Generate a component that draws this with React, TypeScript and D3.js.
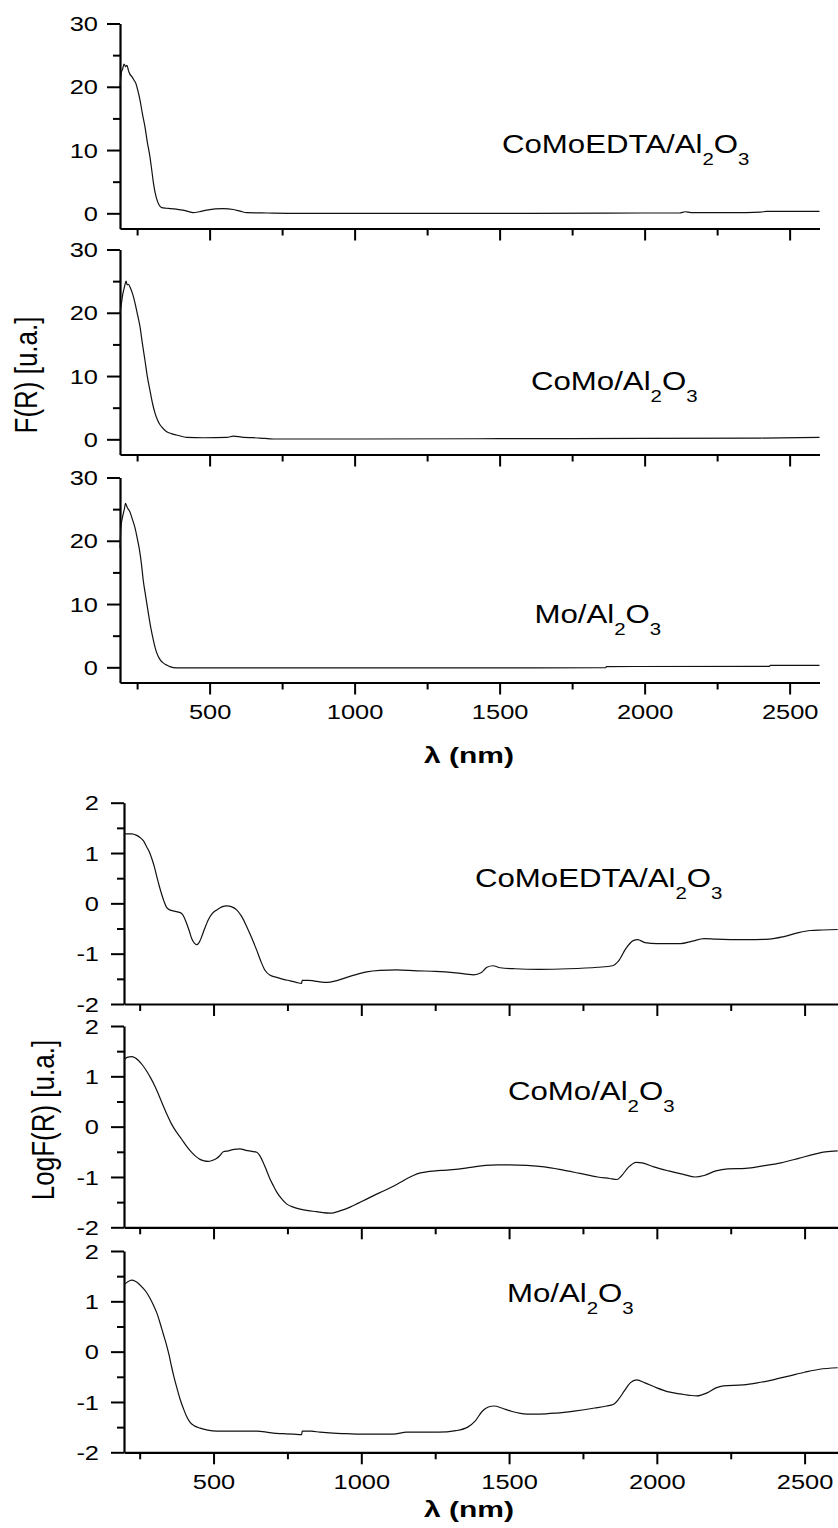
import React, { useEffect, useRef } from 'react';
import * as d3 from 'd3';

// ---------- data ----------
const wavelengthTicks = [500, 1000, 1500, 2000, 2500];
const wavelengthMinorTicks = [250, 750, 1250, 1750, 2250];
const frTicks = [0, 10, 20, 30];
const frMinorTicks = [5, 15, 25];
const logTicks = [-2, -1, 0, 1, 2];
const logMinorTicks = [-1.5, -0.5, 0.5, 1.5];
const sampleNames = ['CoMoEDTA', 'CoMo', 'Mo'];

// F(R) spectra [wavelength nm, F(R)]
const frCoMoEdta: [number, number][] = [
  [191, 20.0], [196, 22.3], [200, 22.8], [205, 23.6], [210, 23.2], [215, 23.4], [220, 22.6],
  [225, 22.0], [232, 21.6], [240, 21.0], [246, 20.5], [252, 19.5], [260, 17.9], [268, 15.8],
  [277, 13.7], [285, 11.3], [294, 9.0], [300, 7.0], [306, 4.9], [312, 3.3], [318, 2.2],
  [325, 1.4], [335, 0.9], [350, 0.8], [363, 0.75], [385, 0.65], [408, 0.5], [425, 0.3],
  [443, 0.1], [465, 0.25], [490, 0.5], [520, 0.7], [547, 0.75], [582, 0.6], [605, 0.35],
  [628, 0.1], [700, 0.05], [811, 0], [1200, 0], [1600, 0.0], [2000, 0.05], [2120, 0.05],
  [2140, 0.25], [2160, 0.1], [2300, 0.1], [2400, 0.2], [2420, 0.3], [2603, 0.3],
];
const frCoMo: [number, number][] = [
  [191, 19.9], [196, 21.5], [200, 22.8], [205, 23.8], [209, 24.6], [212, 25.0], [216, 24.4],
  [220, 24.5], [228, 23.8], [235, 22.9], [243, 21.5], [250, 20.0], [260, 17.8], [268, 15.2],
  [277, 12.5], [285, 10.0], [294, 7.8], [303, 5.7], [312, 4.1], [320, 3.1], [329, 2.3],
  [340, 1.7], [352, 1.2], [368, 0.9], [386, 0.68], [405, 0.45], [421, 0.3], [480, 0.25],
  [560, 0.3], [582, 0.5], [610, 0.35], [674, 0.2], [720, 0.05], [1000, 0.05], [1500, 0.1],
  [2000, 0.15], [2400, 0.2], [2603, 0.3],
];
const frMo: [number, number][] = [
  [191, 18.8], [194, 22.0], [200, 23.8], [206, 25.0], [210, 25.9], [213, 25.6], [218, 25.1],
  [225, 24.6], [233, 23.5], [243, 22.0], [250, 20.5], [258, 18.6], [265, 16.3], [271, 13.8],
  [280, 11.1], [289, 8.5], [297, 6.3], [306, 4.3], [314, 2.8], [323, 1.7], [331, 1.1],
  [340, 0.7], [352, 0.35], [363, 0.1], [386, -0.1], [1000, -0.1], [1500, -0.08], [1866, -0.05],
  [1868, 0.12], [2430, 0.15], [2433, 0.3], [2603, 0.3],
];

// Log F(R) spectra [wavelength nm, log F(R)]
const logCoMoEdta: [number, number][] = [
  [197, 1.35], [200, 1.38], [223, 1.38], [240, 1.35], [251, 1.31], [263, 1.24], [274, 1.12],
  [283, 1.02], [291, 0.89], [300, 0.72], [308, 0.53], [317, 0.33], [325, 0.17], [333, 0.03],
  [341, -0.08], [352, -0.13], [364, -0.15], [378, -0.17], [392, -0.2], [400, -0.27], [409, -0.4],
  [418, -0.55], [426, -0.7], [435, -0.79], [443, -0.82], [452, -0.77], [460, -0.66], [470, -0.5],
  [482, -0.33], [496, -0.2], [511, -0.13], [528, -0.07], [545, -0.05], [562, -0.07], [578, -0.13],
  [595, -0.26], [612, -0.46], [630, -0.7], [646, -0.93], [660, -1.15], [674, -1.33], [692, -1.43],
  [714, -1.47], [737, -1.51], [759, -1.54], [780, -1.57], [798, -1.59], [800, -1.53], [820, -1.53],
  [838, -1.54], [860, -1.56], [888, -1.57], [920, -1.53], [951, -1.47], [985, -1.41], [1018, -1.36],
  [1063, -1.33], [1120, -1.32], [1187, -1.34], [1250, -1.35], [1320, -1.38], [1380, -1.42],
  [1405, -1.38], [1425, -1.27], [1445, -1.24], [1470, -1.28], [1520, -1.3], [1600, -1.31],
  [1700, -1.3], [1800, -1.27], [1850, -1.24], [1870, -1.15], [1895, -0.9], [1920, -0.74],
  [1935, -0.72], [1960, -0.78], [2000, -0.8], [2080, -0.8], [2120, -0.75], [2160, -0.7],
  [2200, -0.71], [2300, -0.72], [2380, -0.71], [2430, -0.66], [2480, -0.58], [2520, -0.54],
  [2560, -0.53], [2612, -0.52],
];
const logCoMo: [number, number][] = [
  [197, 1.33], [210, 1.38], [223, 1.39], [245, 1.32], [260, 1.22], [274, 1.1], [288, 0.96],
  [302, 0.8], [316, 0.61], [330, 0.41], [344, 0.22], [358, 0.05], [375, -0.11], [392, -0.25],
  [409, -0.39], [426, -0.51], [440, -0.59], [454, -0.65], [468, -0.68], [482, -0.69], [496, -0.67],
  [511, -0.63], [522, -0.57], [533, -0.5], [550, -0.48], [570, -0.45], [589, -0.44], [610, -0.47],
  [630, -0.49], [646, -0.51], [657, -0.58], [668, -0.71], [680, -0.88], [691, -1.04], [703, -1.18],
  [714, -1.3], [730, -1.43], [748, -1.54], [770, -1.6], [793, -1.64], [820, -1.67], [849, -1.69],
  [870, -1.71], [894, -1.72], [930, -1.67], [962, -1.6], [990, -1.52], [1018, -1.44], [1045, -1.36],
  [1075, -1.28], [1103, -1.2], [1131, -1.11], [1155, -1.03], [1176, -0.97], [1200, -0.92],
  [1230, -0.89], [1270, -0.87], [1320, -0.85], [1370, -0.81], [1420, -0.77], [1460, -0.76],
  [1500, -0.76], [1560, -0.77], [1620, -0.8], [1680, -0.86], [1740, -0.93], [1800, -1.0],
  [1840, -1.03], [1865, -1.05], [1880, -0.98], [1905, -0.8], [1930, -0.71], [1950, -0.72],
  [1990, -0.8], [2040, -0.88], [2090, -0.95], [2130, -1.0], [2160, -0.97], [2200, -0.88],
  [2240, -0.84], [2300, -0.83], [2360, -0.78], [2420, -0.72], [2480, -0.63], [2530, -0.55],
  [2570, -0.5], [2612, -0.48],
];
const logMo: [number, number][] = [
  [197, 1.33], [210, 1.39], [223, 1.42], [235, 1.4], [245, 1.36], [260, 1.27], [274, 1.17],
  [285, 1.06], [296, 0.93], [308, 0.77], [319, 0.57], [330, 0.35], [341, 0.13], [350, -0.08],
  [358, -0.3], [366, -0.5], [375, -0.7], [386, -0.93], [398, -1.13], [409, -1.29], [420, -1.4],
  [437, -1.48], [454, -1.52], [480, -1.56], [511, -1.58], [580, -1.58], [646, -1.58], [680, -1.6],
  [702, -1.62], [736, -1.63], [770, -1.64], [798, -1.65], [800, -1.58], [830, -1.58], [860, -1.6],
  [905, -1.62], [950, -1.63], [996, -1.64], [1050, -1.64], [1108, -1.64], [1154, -1.6],
  [1199, -1.6], [1260, -1.6], [1320, -1.57], [1360, -1.5], [1385, -1.38], [1410, -1.18],
  [1430, -1.1], [1450, -1.08], [1475, -1.12], [1510, -1.19], [1560, -1.24], [1605, -1.24],
  [1660, -1.22], [1720, -1.18], [1790, -1.12], [1830, -1.08], [1852, -1.05], [1870, -0.95],
  [1890, -0.78], [1910, -0.62], [1932, -0.56], [1960, -0.62], [2000, -0.72], [2040, -0.8],
  [2079, -0.84], [2135, -0.88], [2170, -0.82], [2200, -0.72], [2225, -0.68], [2292, -0.66],
  [2340, -0.62], [2393, -0.56], [2450, -0.48], [2500, -0.41], [2550, -0.35], [2612, -0.32],
];

const frSeries = [frCoMoEdta, frCoMo, frMo];
const logSeries = [logCoMoEdta, logCoMo, logMo];

// ---------- layout ----------
const W = 838;
const H = 1528;
const FONT = '"Liberation Sans", Arial, sans-serif';
const TICK_SX = 1.27;
const LABEL_SX = 1.2;

interface ChartCfg {
  xDomain: [number, number];
  xRange: [number, number];
  yDomain: [number, number];
  panelTops: number[];
  panelH: number;
  major: number[];
  minor: number[];
  series: [number, number][][];
  labelPos: { x: number; y: number }[];
  yLabelGap: number;
  xTitleY: number;
  yTitle: string;
  yTitleX: number;
  yTitleY: number;
}

const topCfg: ChartCfg = {
  xDomain: [191, 2603],
  xRange: [120, 819.5],
  yDomain: [-2.4, 30],
  panelTops: [23.5, 249.5, 477.5],
  panelH: 205,
  major: frTicks,
  minor: frMinorTicks,
  series: frSeries,
  labelPos: [{ x: 502, y: 153 }, { x: 531, y: 390 }, { x: 534.5, y: 623 }],
  yLabelGap: 22,
  xTitleY: 763,
  yTitle: 'F(R) [u.a.]',
  yTitleX: 36.5,
  yTitleY: 375,
};

const botCfg: ChartCfg = {
  xDomain: [197, 2612],
  xRange: [124, 837.7],
  yDomain: [-2, 2],
  panelTops: [802.7, 1026, 1251],
  panelH: 201.3,
  major: logTicks,
  minor: logMinorTicks,
  series: logSeries,
  labelPos: [{ x: 475, y: 887 }, { x: 508, y: 1100 }, { x: 507, y: 1302 }],
  yLabelGap: 25,
  xTitleY: 1517,
  yTitle: 'LogF(R) [u.a.]',
  yTitleX: 53.5,
  yTitleY: 1120,
};

function drawChart(root: d3.Selection<SVGGElement, unknown, null, undefined>, cfg: ChartCfg) {
  const x = d3.scaleLinear().domain(cfg.xDomain).range(cfg.xRange);
  const line = d3.line<[number, number]>().curve(d3.curveMonotoneX);

  cfg.panelTops.forEach((top, i) => {
    const y = d3.scaleLinear().domain(cfg.yDomain).range([top + cfg.panelH, top]);
    const g = root.append('g');
    const isLast = i === cfg.panelTops.length - 1;

    // x axis minor
    g.append('g')
      .attr('transform', `translate(0,${top + cfg.panelH})`)
      .call(d3.axisBottom(x).tickValues(wavelengthMinorTicks).tickSize(7).tickSizeOuter(0).tickFormat(() => ''))
      .call((s) => s.select('.domain').remove());
    // x axis major
    const xa = g.append('g')
      .attr('transform', `translate(0,${top + cfg.panelH})`)
      .call(
        d3.axisBottom(x)
          .tickValues(wavelengthTicks)
          .tickSize(12)
          .tickSizeOuter(0)
          .tickFormat((d) => (isLast ? String(d) : ''))
      );
    xa.selectAll('text')
      .attr('y', 37)
      .attr('dy', null)
      .attr('transform', `scale(${TICK_SX},1)`);

    // y axis minor
    g.append('g')
      .attr('transform', `translate(${cfg.xRange[0]},0)`)
      .call(d3.axisLeft(y).tickValues(cfg.minor).tickSize(7).tickSizeOuter(0).tickFormat(() => ''))
      .call((s) => s.select('.domain').remove());
    // y axis major
    const ya = g.append('g')
      .attr('transform', `translate(${cfg.xRange[0]},0)`)
      .call(d3.axisLeft(y).tickValues(cfg.major).tickSize(13).tickSizeOuter(0).tickFormat((d) => String(d)));
    ya.selectAll('text')
      .attr('x', -cfg.yLabelGap / TICK_SX)
      .attr('dy', '0.36em')
      .attr('transform', `scale(${TICK_SX},1)`);

    g.selectAll('.domain').attr('stroke', '#000').attr('stroke-width', 2.2);
    g.selectAll('.tick line').attr('stroke', '#000').attr('stroke-width', 2);
    g.selectAll('.tick text')
      .attr('fill', '#000')
      .attr('font-size', 20)
      .attr('font-family', FONT);

    // spectrum
    const pts = cfg.series[i].map(([l, v]) => [x(l), y(v)] as [number, number]);
    g.append('path')
      .attr('d', line(pts))
      .attr('fill', 'none')
      .attr('stroke', '#111')
      .attr('stroke-width', 1.2);

    // sample label
    const lp = cfg.labelPos[i];
    const t = g.append('text')
      .attr('transform', `translate(${lp.x},${lp.y}) scale(${LABEL_SX},1)`)
      .attr('font-family', FONT)
      .attr('font-size', 26)
      .attr('fill', '#000');
    t.append('tspan').text(`${sampleNames[i]}/Al`);
    t.append('tspan').attr('dy', 12).attr('font-size', 17).text('2');
    t.append('tspan').attr('dy', -12).text('O');
    t.append('tspan').attr('dy', 12).attr('font-size', 17).text('3');
  });

  // x title
  root.append('text')
    .attr('x', 424)
    .attr('y', cfg.xTitleY)
    .attr('font-family', FONT)
    .attr('font-weight', 'bold')
    .attr('font-size', 22)
    .attr('textLength', 90)
    .attr('lengthAdjust', 'spacingAndGlyphs')
    .attr('fill', '#000')
    .text('λ (nm)');

  // y title
  root.append('text')
    .attr('transform', `translate(${cfg.yTitleX},${cfg.yTitleY}) scale(${LABEL_SX},1) rotate(-90)`)
    .attr('text-anchor', 'middle')
    .attr('font-family', FONT)
    .attr('font-size', 26)
    .attr('fill', '#000')
    .text(cfg.yTitle);
}

export default function App() {
  const ref = useRef<SVGSVGElement | null>(null);

  useEffect(() => {
    if (!ref.current) return;
    const svg = d3.select(ref.current);
    svg.selectAll('*').remove();
    const root = svg.append('g') as d3.Selection<SVGGElement, unknown, null, undefined>;
    drawChart(root, topCfg);
    drawChart(root, botCfg);
  }, []);

  return (
    <svg
      ref={ref}
      width={W}
      height={H}
      viewBox={`0 0 ${W} ${H}`}
      style={{ position: 'absolute', left: 0, top: 0, background: '#fff' }}
    />
  );
}
